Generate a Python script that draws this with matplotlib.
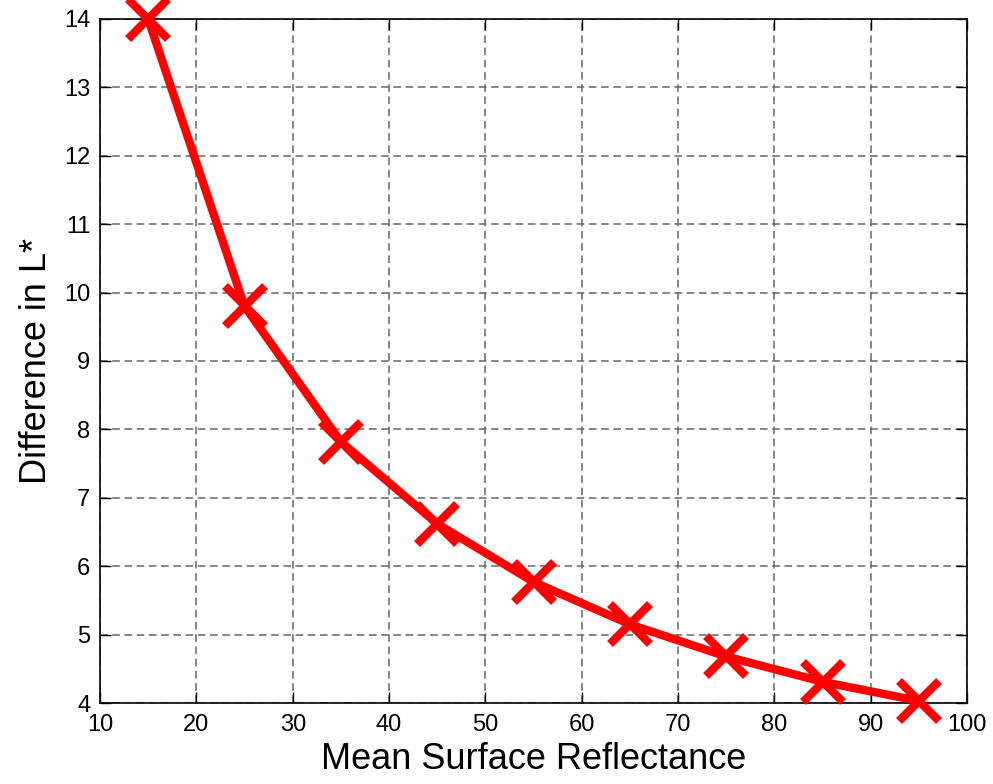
import matplotlib
matplotlib.use('Agg')
import matplotlib.pyplot as plt

# mean surface reflectance (%) and the difference in L*
reflectance = [15, 25, 35, 45, 55, 65, 75, 85, 95]
diff_l = [14.0, 9.8, 7.82, 6.62, 5.77, 5.15, 4.68, 4.31, 4.03]

x_ticks = [10, 20, 30, 40, 50, 60, 70, 80, 90, 100]
y_ticks = [4, 5, 6, 7, 8, 9, 10, 11, 12, 13, 14]

plt.rcParams['font.family'] = ['Liberation Sans', 'DejaVu Sans']

fig = plt.figure(figsize=(9.93, 7.84), dpi=100)
ax = fig.add_axes([0.1007, 0.1033, 0.8733, 0.8725])

ax.plot(reflectance, diff_l, color='#ff0000', linewidth=6, marker='x',
        markersize=29, markeredgewidth=6, clip_on=False, zorder=3)

ax.set_xlim(10, 100)
ax.set_ylim(4, 14)
ax.set_xticks(x_ticks)
ax.set_yticks(y_ticks)
# dashed matlab-style grid
ax.grid(True, linestyle=(0, (5, 3)), color='#666666', linewidth=1.1)
ax.tick_params(direction='in', length=8, width=1, labelsize=17,
               top=True, right=True)
ax.tick_params(axis='x', pad=8)
ax.tick_params(axis='y', pad=7)
for s in ax.spines.values():
    s.set_linewidth(1.2)

ax.set_xlabel('Mean Surface Reflectance', fontsize=26, labelpad=4)
ax.set_ylabel('Difference in L*', fontsize=26, labelpad=7)

fig.savefig('out.png', dpi=100)
